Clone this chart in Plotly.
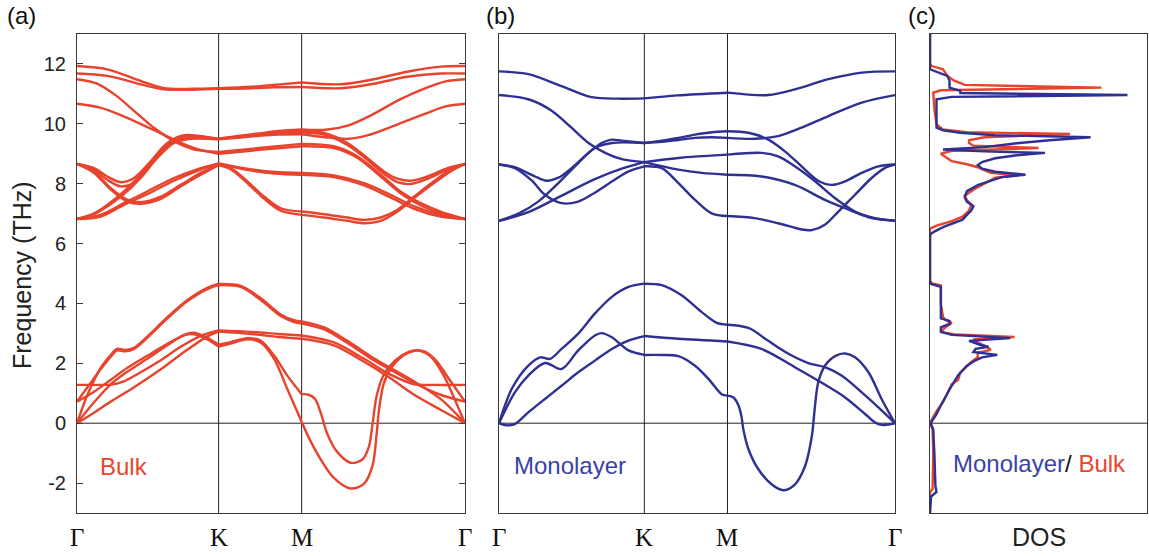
import plotly.graph_objects as go

W, H = 1149, 556
RED = "#E8432D"
BLUE = "#2E3092"
RED_TXT = "#E8462F"
BLUE_TXT = "#3A42A6"
FRAME = "#3a3a3a"

# ---------------- k-path tick positions (fraction of path) ----------------
KPATH_LABELS = ["Γ", "K", "M", "Γ"]
BULK_KTICKS = [0.0, 0.365, 0.579, 1.0]
MONO_KTICKS = [0.0, 0.367, 0.577, 1.0]
FREQ_TICKS = [-2, 0, 2, 4, 6, 8, 10, 12]

# ---------------- Monolayer bands (k, THz) ----------------
# Gamma -> K
mono_GK_1 = [(0, 11.75), (0.074, 11.66), (0.158, 11.26), (0.234, 10.89), (0.30, 10.84), (0.367, 10.85)]
mono_GK_2 = [(0, 10.96), (0.074, 10.82), (0.133, 10.44), (0.183, 9.87), (0.226, 9.36), (0.268, 9.03), (0.310, 8.82), (0.367, 8.72)]
mono_GK_3 = [(0, 8.64), (0.040, 8.55), (0.091, 8.24), (0.120, 8.10), (0.150, 8.20), (0.183, 8.52), (0.226, 9.03), (0.259, 9.36), (0.285, 9.47), (0.310, 9.44), (0.367, 9.36)]
mono_GK_4 = [(0, 8.64), (0.040, 8.52), (0.083, 8.10), (0.116, 7.63), (0.158, 7.35), (0.200, 7.40), (0.242, 7.70), (0.293, 8.14), (0.327, 8.41), (0.367, 8.58)]
mono_GK_5 = [(0, 6.76), (0.049, 7.00), (0.099, 7.40), (0.150, 8.02), (0.200, 8.69), (0.242, 9.19), (0.285, 9.36), (0.367, 9.36)]
mono_GK_6 = [(0, 6.76), (0.074, 7.05), (0.158, 7.60), (0.242, 8.15), (0.310, 8.50), (0.367, 8.72)]
mono_GK_a = [(0, 0), (0.032, 1.14), (0.074, 1.92), (0.104, 2.20), (0.129, 2.15), (0.158, 2.48), (0.200, 2.99), (0.242, 3.66), (0.285, 4.22), (0.327, 4.55), (0.367, 4.66)]
mono_GK_b = [(0, 0), (0.040, 1.03), (0.074, 1.59), (0.116, 2.01), (0.158, 1.81), (0.200, 2.43), (0.242, 2.93), (0.259, 3.01), (0.285, 2.87), (0.327, 2.43), (0.367, 2.28)]
mono_GK_c = [(0, 0), (0.019, -0.07), (0.040, -0.03), (0.074, 0.36), (0.116, 0.81), (0.158, 1.25), (0.200, 1.70), (0.242, 2.09), (0.285, 2.48), (0.327, 2.76), (0.367, 2.91)]
# K -> M
mono_KM_1 = [(0.367, 10.85), (0.45, 10.95), (0.577, 11.04)]
mono_KM_2 = [(0.367, 9.36), (0.411, 9.44), (0.453, 9.53), (0.495, 9.64), (0.537, 9.72), (0.577, 9.75)]
mono_KM_3 = [(0.367, 9.36), (0.411, 9.40), (0.453, 9.46), (0.495, 9.53), (0.537, 9.55), (0.577, 9.53)]
mono_KM_4 = [(0.367, 8.72), (0.453, 8.86), (0.577, 8.97)]
mono_KM_5 = [(0.367, 8.72), (0.453, 8.47), (0.512, 8.36), (0.577, 8.30)]
mono_KM_6 = [(0.367, 8.58), (0.411, 8.52), (0.453, 8.02), (0.495, 7.46), (0.537, 7.01), (0.577, 6.92)]
mono_KM_a = [(0.367, 4.66), (0.411, 4.61), (0.461, 4.27), (0.512, 3.71), (0.550, 3.35), (0.577, 3.29)]
mono_KM_b = [(0.367, 2.28), (0.411, 2.28), (0.453, 2.24), (0.495, 1.92), (0.529, 1.48), (0.562, 0.97), (0.577, 0.92)]
mono_KM_c = [(0.367, 2.91), (0.453, 2.82), (0.577, 2.73)]
# M -> Gamma
mono_MG_1 = [(0.577, 11.04), (0.680, 10.96), (0.747, 11.15), (0.832, 11.49), (0.916, 11.71), (1.0, 11.75)]
mono_MG_2 = [(0.577, 9.53), (0.646, 9.50), (0.705, 9.59), (0.764, 9.87), (0.832, 10.26), (0.916, 10.71), (1.0, 10.96)]
mono_MG_3 = [(0.577, 9.75), (0.630, 9.70), (0.680, 9.47), (0.722, 9.08), (0.764, 8.58), (0.806, 8.10), (0.840, 7.96), (0.874, 8.08), (0.916, 8.36), (0.958, 8.58), (1.0, 8.64)]
mono_MG_4 = [(0.577, 8.97), (0.663, 9.03), (0.705, 8.91), (0.747, 8.58), (0.798, 8.08), (0.848, 7.52), (0.899, 7.07), (0.949, 6.85), (1.0, 6.76)]
mono_MG_5 = [(0.577, 8.30), (0.663, 8.24), (0.747, 7.96), (0.823, 7.46), (0.874, 7.18), (0.933, 6.88), (1.0, 6.76)]
mono_MG_6 = [(0.577, 6.92), (0.646, 6.85), (0.705, 6.68), (0.764, 6.47), (0.790, 6.45), (0.823, 6.63), (0.857, 7.07), (0.899, 7.63), (0.941, 8.19), (0.974, 8.52), (1.0, 8.64)]
mono_MG_a = [(0.577, 3.29), (0.630, 3.18), (0.680, 2.75), (0.731, 2.32), (0.781, 2.01), (0.823, 1.87), (0.865, 1.59), (0.916, 1.03), (0.958, 0.53), (1.0, 0)]
mono_MG_b = [(0.577, 0.92), (0.592, 0.86), (0.604, 0.62), (0.612, 0.25), (0.617, -0.20), (0.630, -0.87), (0.655, -1.54), (0.689, -2.05), (0.718, -2.24), (0.747, -2.05), (0.773, -1.43), (0.790, -0.43), (0.798, 0.58), (0.806, 1.36), (0.823, 1.92), (0.850, 2.25), (0.874, 2.33), (0.899, 2.20), (0.933, 1.70), (0.966, 0.81), (1.0, 0)]
mono_MG_c = [(0.577, 2.73), (0.663, 2.48), (0.747, 1.87), (0.806, 1.42), (0.874, 0.86), (0.925, 0.30), (0.950, 0.02), (0.970, -0.06), (0.990, -0.03), (1.0, 0)]

# ---------------- Bulk bands (k, THz) ----------------
# Gamma -> K
bulk_GK_T1 = [(0, 11.93), (0.078, 11.82), (0.164, 11.43), (0.224, 11.19), (0.30, 11.17), (0.365, 11.19)]
bulk_GK_T2 = [(0, 11.68), (0.078, 11.60), (0.164, 11.32), (0.224, 11.15), (0.30, 11.14), (0.365, 11.17)]
bulk_GK_D1 = [(0, 11.49), (0.05, 11.35), (0.10, 10.95), (0.15, 10.40), (0.20, 9.85), (0.25, 9.42), (0.30, 9.15), (0.365, 9.06)]
bulk_GK_D2 = [(0, 10.67), (0.06, 10.54), (0.12, 10.25), (0.18, 9.90), (0.23, 9.60), (0.28, 9.30), (0.32, 9.12), (0.365, 9.00)]
bulk_GK_L3a = [(0, 8.66), (0.044, 8.52), (0.078, 8.24), (0.113, 8.05), (0.147, 8.19), (0.190, 8.75), (0.233, 9.36), (0.276, 9.62), (0.319, 9.59), (0.365, 9.50)]
bulk_GK_L3b = [(0, 8.66), (0.044, 8.48), (0.078, 8.13), (0.113, 7.91), (0.147, 8.02), (0.190, 8.64), (0.233, 9.28), (0.276, 9.57), (0.319, 9.55), (0.365, 9.50)]
bulk_GK_L4a = [(0, 8.66), (0.044, 8.41), (0.087, 7.85), (0.130, 7.46), (0.164, 7.38), (0.216, 7.57), (0.267, 7.96), (0.319, 8.36), (0.365, 8.64)]
bulk_GK_L4b = [(0, 8.66), (0.044, 8.36), (0.087, 7.80), (0.130, 7.40), (0.164, 7.33), (0.216, 7.49), (0.267, 7.91), (0.319, 8.30), (0.365, 8.62)]
bulk_GK_L5a = [(0, 6.82), (0.044, 7.01), (0.078, 7.29), (0.121, 7.74), (0.164, 8.30), (0.207, 8.91), (0.250, 9.42), (0.293, 9.53), (0.365, 9.50)]
bulk_GK_L5b = [(0, 6.82), (0.044, 6.98), (0.078, 7.24), (0.121, 7.65), (0.164, 8.19), (0.207, 8.86), (0.250, 9.36), (0.293, 9.50), (0.365, 9.48)]
bulk_GK_L6a = [(0, 6.82), (0.061, 6.96), (0.121, 7.35), (0.181, 7.74), (0.250, 8.19), (0.319, 8.52), (0.365, 8.68)]
bulk_GK_L6b = [(0, 6.82), (0.061, 6.90), (0.121, 7.29), (0.181, 7.65), (0.250, 8.10), (0.319, 8.47), (0.365, 8.66)]
bulk_GK_B1 = [(0, 0), (0.027, 0.95), (0.061, 1.85), (0.087, 2.28), (0.103, 2.48), (0.125, 2.45), (0.147, 2.52), (0.181, 2.89), (0.233, 3.54), (0.284, 4.11), (0.336, 4.52), (0.365, 4.65)]
bulk_GK_B2 = [(0, 0.72), (0.027, 1.20), (0.061, 1.80), (0.087, 2.22), (0.103, 2.43), (0.125, 2.40), (0.147, 2.48), (0.181, 2.85), (0.233, 3.50), (0.284, 4.07), (0.336, 4.48), (0.365, 4.61)]
bulk_GK_B3 = [(0, 0), (0.044, 0.70), (0.087, 1.30), (0.130, 1.72), (0.181, 2.15), (0.233, 2.60), (0.276, 2.95), (0.302, 3.02), (0.336, 2.85), (0.365, 2.62)]
bulk_GK_B4 = [(0, 0.72), (0.044, 1.05), (0.087, 1.45), (0.130, 1.85), (0.181, 2.25), (0.233, 2.65), (0.276, 2.93), (0.302, 2.97), (0.336, 2.80), (0.365, 2.56)]
bulk_GK_B5 = [(0, 1.28), (0.044, 1.28), (0.087, 1.29), (0.121, 1.40), (0.164, 1.70), (0.216, 2.10), (0.267, 2.55), (0.319, 2.92), (0.365, 3.10)]
bulk_GK_B6 = [(0, 0), (0.044, 0.35), (0.087, 0.72), (0.147, 1.20), (0.216, 1.80), (0.284, 2.45), (0.336, 2.90), (0.365, 3.06)]
# K -> M
bulk_KM_T1 = [(0.365, 11.19), (0.45, 11.24), (0.508, 11.30), (0.579, 11.38)]
bulk_KM_T2 = [(0.365, 11.17), (0.45, 11.19), (0.508, 11.22), (0.579, 11.23)]
bulk_KM_W1 = [(0.365, 9.50), (0.42, 9.60), (0.47, 9.68), (0.52, 9.76), (0.579, 9.81)]
bulk_KM_W2 = [(0.365, 9.50), (0.42, 9.58), (0.47, 9.66), (0.52, 9.73), (0.579, 9.77)]
bulk_KM_W3 = [(0.365, 9.50), (0.42, 9.56), (0.47, 9.62), (0.52, 9.68), (0.579, 9.71)]
bulk_KM_W4 = [(0.365, 9.48), (0.42, 9.54), (0.47, 9.60), (0.52, 9.64), (0.579, 9.65)]
bulk_KM_D1 = [(0.365, 9.06), (0.47, 9.19), (0.579, 9.33)]
bulk_KM_D2 = [(0.365, 9.00), (0.47, 9.13), (0.579, 9.25)]
bulk_KM_E1 = [(0.365, 8.68), (0.43, 8.52), (0.51, 8.39), (0.579, 8.36)]
bulk_KM_E2 = [(0.365, 8.66), (0.43, 8.48), (0.51, 8.34), (0.579, 8.30)]
bulk_KM_F1 = [(0.365, 8.64), (0.396, 8.52), (0.439, 8.08), (0.482, 7.57), (0.525, 7.18), (0.579, 7.07)]
bulk_KM_F2 = [(0.365, 8.62), (0.396, 8.48), (0.439, 8.02), (0.482, 7.50), (0.525, 7.10), (0.579, 6.96)]
bulk_KM_B1 = [(0.365, 4.65), (0.422, 4.59), (0.473, 4.18), (0.525, 3.63), (0.559, 3.44), (0.579, 3.40)]
bulk_KM_B2 = [(0.365, 4.61), (0.422, 4.55), (0.473, 4.12), (0.525, 3.58), (0.559, 3.38), (0.579, 3.33)]
bulk_KM_B3 = [(0.365, 2.62), (0.396, 2.71), (0.439, 2.84), (0.473, 2.76), (0.508, 2.26), (0.542, 1.59), (0.579, 0.97)]
bulk_KM_B4 = [(0.365, 2.56), (0.396, 2.66), (0.439, 2.80), (0.473, 2.70), (0.508, 2.15), (0.542, 1.14), (0.579, 0.05)]
bulk_KM_B5 = [(0.365, 3.10), (0.45, 3.05), (0.52, 2.98), (0.579, 2.93)]
bulk_KM_B6 = [(0.365, 3.06), (0.45, 2.98), (0.52, 2.88), (0.579, 2.82)]
# M -> Gamma
bulk_MG_T1 = [(0.579, 11.38), (0.680, 11.32), (0.765, 11.49), (0.851, 11.74), (0.937, 11.91), (1.0, 11.93)]
bulk_MG_T2 = [(0.579, 11.23), (0.680, 11.19), (0.765, 11.34), (0.851, 11.57), (0.937, 11.68), (1.0, 11.68)]
bulk_MG_R1a = [(0.579, 9.81), (0.64, 9.80), (0.70, 9.95), (0.76, 10.30), (0.83, 10.80), (0.90, 11.20), (0.95, 11.42), (1.0, 11.49)]
bulk_MG_R1b = [(0.579, 9.65), (0.64, 9.55), (0.70, 9.50), (0.75, 9.62), (0.82, 9.95), (0.90, 10.35), (0.95, 10.58), (1.0, 10.67)]
bulk_MG_R2a = [(0.579, 9.77), (0.637, 9.70), (0.696, 9.37), (0.748, 8.86), (0.791, 8.41), (0.826, 8.17), (0.860, 8.10), (0.903, 8.24), (0.955, 8.52), (1.0, 8.66)]
bulk_MG_R2b = [(0.579, 9.71), (0.637, 9.64), (0.696, 9.30), (0.748, 8.80), (0.791, 8.33), (0.826, 8.05), (0.860, 7.99), (0.903, 8.16), (0.955, 8.47), (1.0, 8.66)]
bulk_MG_R3a = [(0.579, 9.33), (0.662, 9.25), (0.723, 8.91), (0.783, 8.30), (0.834, 7.74), (0.886, 7.35), (0.937, 7.07), (1.0, 6.82)]
bulk_MG_R3b = [(0.579, 9.25), (0.662, 9.19), (0.723, 8.86), (0.783, 8.24), (0.834, 7.68), (0.886, 7.27), (0.937, 7.01), (1.0, 6.82)]
bulk_MG_R4a = [(0.579, 8.36), (0.662, 8.28), (0.740, 8.02), (0.808, 7.63), (0.869, 7.24), (0.937, 6.96), (1.0, 6.82)]
bulk_MG_R4b = [(0.579, 8.30), (0.662, 8.22), (0.740, 7.94), (0.808, 7.54), (0.869, 7.16), (0.937, 6.90), (1.0, 6.82)]
bulk_MG_R5a = [(0.579, 7.07), (0.637, 6.98), (0.696, 6.87), (0.740, 6.79), (0.783, 6.87), (0.826, 7.13), (0.869, 7.57), (0.920, 8.08), (0.963, 8.47), (1.0, 8.66)]
bulk_MG_R5b = [(0.579, 6.96), (0.637, 6.87), (0.696, 6.76), (0.740, 6.68), (0.783, 6.76), (0.826, 7.07), (0.869, 7.52), (0.920, 8.02), (0.963, 8.41), (1.0, 8.66)]
bulk_MG_B1 = [(0.579, 3.40), (0.637, 3.20), (0.697, 2.75), (0.765, 2.17), (0.817, 1.78), (0.868, 1.40), (0.937, 0.81), (1.0, 0)]
bulk_MG_B2 = [(0.579, 3.33), (0.637, 3.13), (0.697, 2.68), (0.765, 2.10), (0.817, 1.72), (0.868, 1.35), (0.937, 0.95), (1.0, 0.72)]
bulk_MG_B3 = [(0.579, 0.97), (0.597, 0.95), (0.614, 0.80), (0.628, 0.35), (0.645, -0.35), (0.670, -0.95), (0.705, -1.32), (0.735, -1.22), (0.752, -0.80), (0.762, 0.0), (0.772, 0.90), (0.790, 1.60), (0.820, 2.10), (0.855, 2.38), (0.880, 2.43), (0.910, 2.25), (0.945, 1.60), (0.975, 0.75), (1.0, 0)]
bulk_MG_B4 = [(0.579, 0.05), (0.600, -0.55), (0.630, -1.25), (0.660, -1.80), (0.705, -2.18), (0.740, -2.02), (0.762, -1.40), (0.772, -0.40), (0.778, 0.40), (0.790, 1.30), (0.810, 1.85), (0.840, 2.25), (0.870, 2.42), (0.895, 2.40), (0.925, 2.10), (0.960, 1.45), (1.0, 0.72)]
bulk_MG_B5 = [(0.579, 2.93), (0.662, 2.70), (0.740, 2.15), (0.808, 1.62), (0.869, 1.30), (0.920, 1.28), (1.0, 1.28)]
bulk_MG_B6 = [(0.579, 2.82), (0.662, 2.60), (0.740, 2.05), (0.808, 1.50), (0.869, 0.95), (0.937, 0.45), (1.0, 0)]

# ---------------- DOS (THz, DOS in units of panel width) ----------------
dos_mono = [(-3.0, 0.0), (-2.45, 0.005), (-2.3, 0.03), (-2.1, 0.025), (-1.0, 0.02), (-0.2, 0.015), (0.0, 0.003),
            (0.3, 0.03), (0.6, 0.05), (1.0, 0.08), (1.25, 0.10), (1.6, 0.13), (1.92, 0.17), (2.1, 0.21), (2.2, 0.24),
            (2.28, 0.31), (2.38, 0.20), (2.48, 0.21), (2.55, 0.27), (2.62, 0.23), (2.75, 0.18), (2.84, 0.37),
            (2.95, 0.10), (3.05, 0.05), (3.2, 0.05), (3.32, 0.09), (3.42, 0.09), (3.5, 0.05), (4.0, 0.05),
            (4.55, 0.05), (4.65, 0.005), (4.75, 0.0), (6.3, 0.0), (6.4, 0.02), (6.55, 0.06), (6.8, 0.15),
            (6.96, 0.17), (7.1, 0.19), (7.25, 0.20), (7.4, 0.17), (7.55, 0.16), (7.75, 0.17), (7.95, 0.22),
            (8.1, 0.28), (8.22, 0.33), (8.30, 0.44), (8.4, 0.30), (8.5, 0.24), (8.62, 0.22), (8.72, 0.24),
            (8.85, 0.30), (8.95, 0.40), (9.03, 0.53), (9.08, 0.25), (9.14, 0.06), (9.22, 0.25), (9.35, 0.40),
            (9.45, 0.55), (9.55, 0.74), (9.62, 0.30), (9.70, 0.14), (9.78, 0.06), (9.87, 0.03), (10.5, 0.03),
            (10.82, 0.03), (10.90, 0.10), (10.96, 0.91), (11.03, 0.14), (11.1, 0.14), (11.21, 0.09), (11.45, 0.09),
            (11.6, 0.08), (11.71, 0.04), (11.82, 0.0), (13.0, 0.0)]
dos_bulk = [(-3.0, 0.0), (-2.3, 0.0), (-2.2, 0.012), (-1.5, 0.015), (-1.0, 0.015), (-0.2, 0.012), (0.0, 0.0),
            (0.15, 0.01), (0.4, 0.03), (0.7, 0.06), (1.0, 0.08), (1.3, 0.10), (1.45, 0.13), (1.7, 0.14),
            (1.9, 0.17), (2.05, 0.19), (2.2, 0.22), (2.35, 0.22), (2.45, 0.28), (2.55, 0.26), (2.7, 0.22),
            (2.8, 0.20), (2.88, 0.39), (2.96, 0.12), (3.05, 0.05), (3.2, 0.07), (3.35, 0.10), (3.45, 0.07),
            (3.55, 0.06), (4.0, 0.05), (4.6, 0.05), (4.68, 0.005), (4.75, 0.0), (6.5, 0.0), (6.6, 0.03),
            (6.75, 0.10), (6.9, 0.15), (7.1, 0.18), (7.3, 0.19), (7.45, 0.17), (7.6, 0.16), (7.8, 0.20),
            (8.0, 0.25), (8.2, 0.30), (8.28, 0.41), (8.36, 0.28), (8.45, 0.25), (8.55, 0.22), (8.65, 0.17),
            (8.75, 0.10), (8.85, 0.08), (9.0, 0.05), (9.1, 0.10), (9.19, 0.50), (9.27, 0.20), (9.36, 0.18),
            (9.45, 0.18), (9.55, 0.25), (9.66, 0.645), (9.72, 0.17), (9.81, 0.06), (9.98, 0.03), (10.5, 0.02),
            (11.04, 0.015), (11.12, 0.05), (11.21, 0.79), (11.3, 0.16), (11.45, 0.11), (11.6, 0.08),
            (11.82, 0.06), (11.93, 0.008), (12.0, 0.0), (13.0, 0.0)]

MONO_BANDS = [mono_GK_1, mono_GK_2, mono_GK_3, mono_GK_4, mono_GK_5, mono_GK_6, mono_GK_a, mono_GK_b, mono_GK_c,
              mono_KM_1, mono_KM_2, mono_KM_3, mono_KM_4, mono_KM_5, mono_KM_6, mono_KM_a, mono_KM_b, mono_KM_c,
              mono_MG_1, mono_MG_2, mono_MG_3, mono_MG_4, mono_MG_5, mono_MG_6, mono_MG_a, mono_MG_b, mono_MG_c]
BULK_BANDS = [bulk_GK_T1, bulk_GK_T2, bulk_GK_D1, bulk_GK_D2, bulk_GK_L3a, bulk_GK_L3b, bulk_GK_L4a, bulk_GK_L4b,
              bulk_GK_L5a, bulk_GK_L5b, bulk_GK_L6a, bulk_GK_L6b, bulk_GK_B1, bulk_GK_B2, bulk_GK_B3, bulk_GK_B4,
              bulk_GK_B5, bulk_GK_B6,
              bulk_KM_T1, bulk_KM_T2, bulk_KM_W1, bulk_KM_W2, bulk_KM_W3, bulk_KM_W4, bulk_KM_D1, bulk_KM_D2,
              bulk_KM_E1, bulk_KM_E2, bulk_KM_F1, bulk_KM_F2, bulk_KM_B1, bulk_KM_B2, bulk_KM_B3, bulk_KM_B4,
              bulk_KM_B5, bulk_KM_B6,
              bulk_MG_T1, bulk_MG_T2, bulk_MG_R1a, bulk_MG_R1b, bulk_MG_R2a, bulk_MG_R2b, bulk_MG_R3a, bulk_MG_R3b,
              bulk_MG_R4a, bulk_MG_R4b, bulk_MG_R5a, bulk_MG_R5b, bulk_MG_B1, bulk_MG_B2, bulk_MG_B3, bulk_MG_B4,
              bulk_MG_B5, bulk_MG_B6]

fig = go.Figure()


def add_bands(bands, color, xa, ya):
    for seg in bands:
        fig.add_trace(go.Scatter(
            x=[p[0] for p in seg], y=[p[1] for p in seg], mode="lines",
            line=dict(color=color, width=2.4, shape="spline", smoothing=0.9),
            xaxis=xa, yaxis=ya, hoverinfo="skip", showlegend=False))


add_bands(BULK_BANDS, RED, "x", "y")
add_bands(MONO_BANDS, BLUE, "x2", "y2")

for dos, color in ((dos_bulk, RED), (dos_mono, BLUE)):
    fig.add_trace(go.Scatter(
        x=[p[1] for p in dos], y=[p[0] for p in dos], mode="lines",
        line=dict(color=color, width=2.4), xaxis="x3", yaxis="y3",
        hoverinfo="skip", showlegend=False))

# ---------------- layout ----------------
YDOM = [1 - 513 / H, 1 - 34 / H]
FONT = "Liberation Sans, Arial, sans-serif"
SERIF = "Liberation Serif, Times New Roman, serif"

xcommon = dict(range=[0, 1], showgrid=False, zeroline=False, showticklabels=False, ticks="",
               showline=True, mirror=True, linecolor=FRAME, linewidth=1)
ycommon = dict(range=[-3, 13], showgrid=False, zeroline=False, showline=True, mirror=True,
               linecolor=FRAME, linewidth=1, domain=YDOM)

fig.update_layout(
    width=W, height=H, margin=dict(l=0, r=0, t=0, b=0),
    paper_bgcolor="white", plot_bgcolor="white",
    xaxis=dict(domain=[77 / W, 465 / W], anchor="y", **xcommon),
    yaxis=dict(anchor="x", tickvals=FREQ_TICKS, ticktext=[str(v) for v in FREQ_TICKS],
               ticks="inside", ticklen=6, tickcolor=FRAME, tickwidth=1,
               tickfont=dict(family=FONT, size=20, color="#222"), ticklabelstandoff=6,
               **{**ycommon, "mirror": "ticks"}),
    xaxis2=dict(domain=[499 / W, 895 / W], anchor="y2", **xcommon),
    yaxis2=dict(anchor="x2", showticklabels=False, ticks="", **ycommon),
    xaxis3=dict(domain=[930 / W, 1147 / W], anchor="y3", **xcommon),
    yaxis3=dict(anchor="x3", showticklabels=False, ticks="", **ycommon),
)

shapes = []
for xa, ya, kt in (("x", "y", BULK_KTICKS), ("x2", "y2", MONO_KTICKS)):
    for kv in kt[1:3]:
        shapes.append(dict(type="line", xref=xa, yref=ya + " domain", x0=kv, x1=kv, y0=0, y1=1,
                           line=dict(color="#222", width=1), layer="below"))
for xa, ya in (("x", "y"), ("x2", "y2"), ("x3", "y3")):
    shapes.append(dict(type="line", xref=xa + " domain", yref=ya, x0=0, x1=1, y0=0, y1=0,
                       line=dict(color="#222", width=1), layer="below"))
fig.update_layout(shapes=shapes)

ann = []
label_y = 1 - 537 / H
for xa, kt in (("x", BULK_KTICKS), ("x2", MONO_KTICKS)):
    for kv, lab in zip(kt, KPATH_LABELS):
        ann.append(dict(x=kv, y=label_y, xref=xa, yref="paper", text=lab, showarrow=False,
                        xanchor="center", yanchor="middle",
                        font=dict(family=SERIF, size=25, color="#111")))
for txt, xp in (("(a)", 5), ("(b)", 484), ("(c)", 906)):
    ann.append(dict(x=xp / W, y=1 - 15 / H, xref="paper", yref="paper", text=txt, showarrow=False,
                    xanchor="left", yanchor="middle", font=dict(family=FONT, size=24, color="#111")))
ann.append(dict(x=22 / W, y=1 - 275 / H, xref="paper", yref="paper", text="Frequency (THz)", textangle=-90,
                showarrow=False, xanchor="center", yanchor="middle", font=dict(family=FONT, size=25, color="#222")))
ann.append(dict(x=1039 / W, y=1 - 537 / H, xref="paper", yref="paper", text="DOS", showarrow=False,
                xanchor="center", yanchor="middle", font=dict(family=FONT, size=25, color="#222")))
ann.append(dict(x=98 / W, y=1 - 466 / H, xref="paper", yref="paper", text="Bulk", showarrow=False,
                xanchor="left", yanchor="middle", font=dict(family=FONT, size=24, color=RED_TXT)))
ann.append(dict(x=512 / W, y=1 - 465 / H, xref="paper", yref="paper", text="Monolayer", showarrow=False,
                xanchor="left", yanchor="middle", font=dict(family=FONT, size=24, color=BLUE_TXT)))
ann.append(dict(x=1039 / W, y=1 - 463 / H, xref="paper", yref="paper",
                text=f'<span style="color:{BLUE_TXT}">Monolayer</span><span style="color:#111">/</span>'
                     f'<span style="color:{RED_TXT}"> Bulk</span>',
                showarrow=False, xanchor="center", yanchor="middle",
                font=dict(family=FONT, size=24, color="#111")))
fig.update_layout(annotations=ann)

fig.write_html("out.html")
